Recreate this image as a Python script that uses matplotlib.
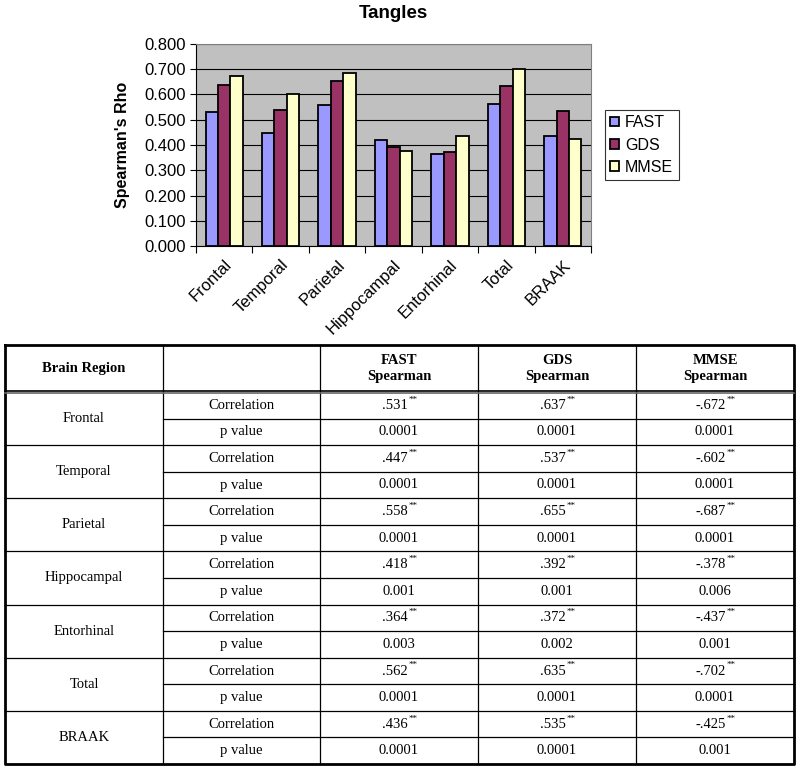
import matplotlib
matplotlib.use("Agg")
import matplotlib.pyplot as plt
import numpy as np

regions = ["Frontal", "Temporal", "Parietal", "Hippocampal", "Entorhinal", "Total", "BRAAK"]
series = ["FAST", "GDS", "MMSE"]
fast = [0.531, 0.447, 0.558, 0.418, 0.364, 0.562, 0.436]
gds = [0.637, 0.537, 0.655, 0.392, 0.372, 0.635, 0.535]
mmse = [0.672, 0.602, 0.687, 0.378, 0.437, 0.702, 0.425]
fast_corr = [".531", ".447", ".558", ".418", ".364", ".562", ".436"]
gds_corr = [".637", ".537", ".655", ".392", ".372", ".635", ".535"]
mmse_corr = ["-.672", "-.602", "-.687", "-.378", "-.437", "-.702", "-.425"]
fast_p = ["0.0001", "0.0001", "0.0001", "0.001", "0.003", "0.0001", "0.0001"]
gds_p = ["0.0001", "0.0001", "0.0001", "0.001", "0.002", "0.0001", "0.0001"]
mmse_p = ["0.0001", "0.0001", "0.0001", "0.006", "0.001", "0.0001", "0.001"]
colors = ["#9999FF", "#993366", "#FFFFCC"]

plt.rcParams["font.family"] = ["Liberation Sans", "DejaVu Sans"]

W, H = 800, 770
fig = plt.figure(figsize=(8, 7.7), dpi=100)

# ---- chart ----
ax = fig.add_axes([196 / W, 1 - 246 / H, (591 - 196) / W, (246 - 44) / H])
ax.set_facecolor("#C0C0C0")
x = np.arange(len(regions))
bw = 0.22
for i, (vals, c, name) in enumerate(zip([fast, gds, mmse], colors, series)):
    ax.bar(x + (i - 1) * bw, vals, width=bw, color=c, edgecolor="black",
           linewidth=1.3, label=name, zorder=3)
ax.set_xlim(-0.5, len(regions) - 0.5)
ax.set_ylim(0, 0.8)
yt = np.arange(0, 0.81, 0.1)
ax.set_yticks(yt)
ax.set_yticklabels([f"{v:.3f}" for v in yt], fontsize=12)
ax.yaxis.grid(True, color="black", linewidth=0.8, zorder=0)
ax.set_axisbelow(True)
ax.set_xticks(np.arange(len(regions) + 1) - 0.5, minor=False)
ax.set_xticklabels([])
ax.set_xticks(x, minor=True)
ax.set_xticklabels(regions, minor=True, rotation=45, ha="right", rotation_mode="anchor", fontsize=12)
ax.tick_params(axis="x", which="minor", length=0, pad=8)
ax.tick_params(axis="x", which="major", length=5, direction="out")
ax.tick_params(axis="y", length=4)
for s in ["top", "right"]:
    ax.spines[s].set_color("#808080")
ax.set_ylabel("Spearman's Rho", fontsize=11.5, fontweight="bold", labelpad=10)
fig.text(393 / W, 1 - 13 / H, "Tangles", ha="center", va="center", fontsize=13.5, fontweight="bold")
leg = ax.legend(loc="center left", bbox_to_anchor=(1.035, 0.5), fontsize=11.5, frameon=True,
                fancybox=False, edgecolor="black", handlelength=0.55, handleheight=0.55,
                handletextpad=0.35, borderpad=0.35, labelspacing=0.45, borderaxespad=0)
leg.get_frame().set_linewidth(0.8)

# ---- table ----
tax = fig.add_axes([0, 0, 1, 1])
tax.set_xlim(0, W)
tax.set_ylim(H, 0)
tax.axis("off")
serif = "Liberation Serif"
cols = [5, 163, 320, 478, 636, 794]
top, hdr, bot = 345, 392, 764
rh = (bot - hdr) / 14
lw = 0.9
tax.plot([cols[0], cols[-1], cols[-1], cols[0], cols[0]], [top, top, bot, bot, top], color="black", lw=2)
for c in cols[1:-1]:
    tax.plot([c, c], [top, bot], color="black", lw=lw)
tax.plot([cols[0], cols[-1]], [hdr - 1.5, hdr - 1.5], color="black", lw=1.2)
tax.plot([cols[0], cols[-1]], [hdr + 1.0, hdr + 1.0], color="#666666", lw=1.2)
for k in range(1, 14):
    y = hdr + k * rh
    x0 = cols[0] if k % 2 == 0 else cols[1]
    tax.plot([x0, cols[-1]], [y, y], color="black", lw=lw)

fs = 10.5
tax.text((cols[0] + cols[1]) / 2, (top + hdr) / 2, "Brain Region", ha="center", va="center",
         fontsize=fs, fontweight="bold", family=serif)
for j, name in enumerate(series):
    cx = (cols[2 + j] + cols[3 + j]) / 2
    tax.text(cx, (top + hdr) / 2, f"{name}\nSpearman", ha="center", va="center",
             fontsize=fs, fontweight="bold", family=serif, linespacing=1.35)

for i, reg in enumerate(regions):
    y0 = hdr + 2 * i * rh
    tax.text((cols[0] + cols[1]) / 2, y0 + rh, reg, ha="center", va="center", fontsize=fs, family=serif)
    tax.text((cols[1] + cols[2]) / 2, y0 + rh / 2, "Correlation", ha="center", va="center", fontsize=fs, family=serif)
    tax.text((cols[1] + cols[2]) / 2, y0 + 1.5 * rh, "p value", ha="center", va="center", fontsize=fs, family=serif)
    for j, (cv, pv) in enumerate(zip([fast_corr, gds_corr, mmse_corr], [fast_p, gds_p, mmse_p])):
        cx = (cols[2 + j] + cols[3 + j]) / 2
        t = tax.text(cx - 4, y0 + rh / 2, cv[i], ha="center", va="center", fontsize=fs, family=serif)
        tax.annotate("**", xy=(1, 1), xycoords=t, xytext=(0.5, -3.5), textcoords="offset points",
                     ha="left", va="bottom", fontsize=6.5, family=serif)
        tax.text(cx, y0 + 1.5 * rh, pv[i], ha="center", va="center", fontsize=fs, family=serif)

fig.savefig("out.png", dpi=100)
